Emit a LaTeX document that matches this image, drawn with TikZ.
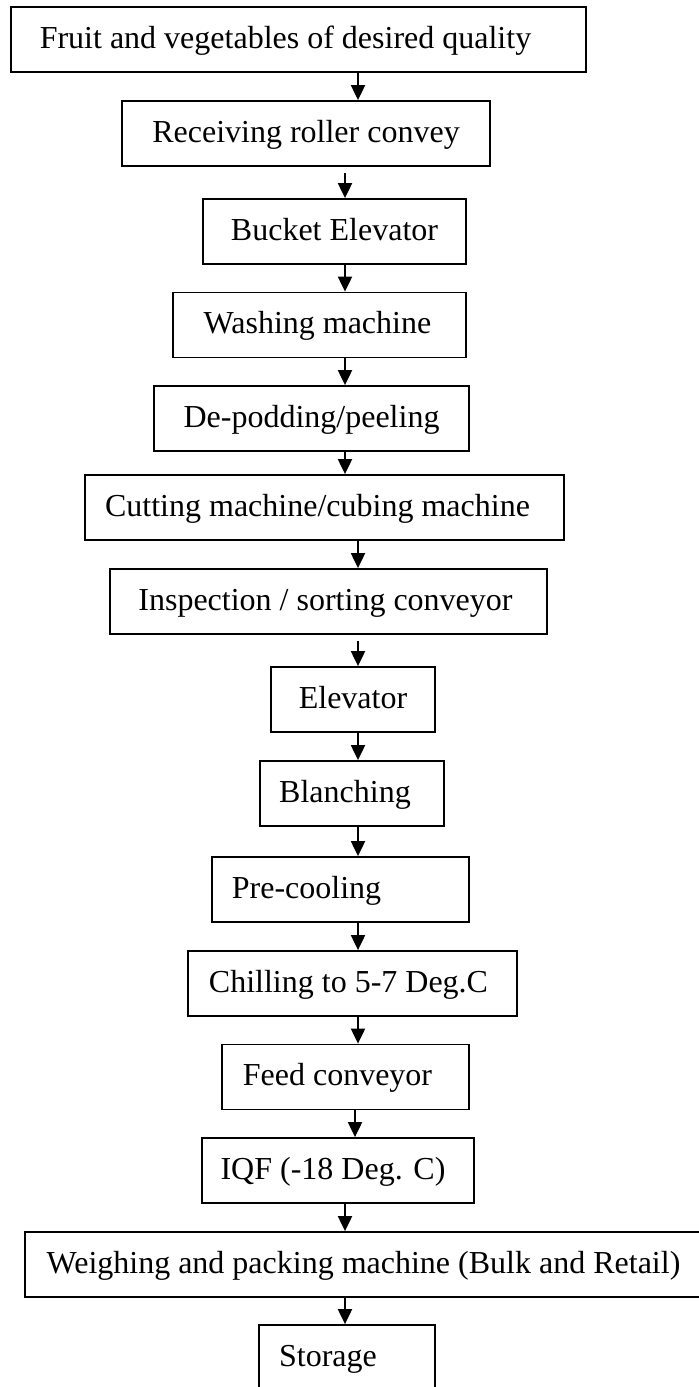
\documentclass[tikz,border=0pt]{standalone}
\usepackage{fontspec}
\setmainfont{Liberation Serif}
\usetikzlibrary{arrows.meta}
\begin{document}
\begin{tikzpicture}[x=0.5pt,y=-0.5pt]
\tikzstyle{stage}=[rectangle,draw,line width=0.9pt,inner sep=0pt,minimum height=32.5pt,text height=11.5pt,text depth=3pt,font=\fontsize{16pt}{19pt}\selectfont]
\tikzset{
	flow/.style={line width=1pt,-{Triangle[length=7.5pt,width=7pt]}}
}
\useasboundingbox (0,0) rectangle (698,1387);
\coordinate (left line) at (345,0);
\coordinate (right line) at (358,0);
\coordinate (mid line) at (355,0);
\node[stage,minimum width=287.5pt] (fruit) at (298.5,39.5) {Fruit and vegetables of desired quality\hspace*{13pt}};
\node[stage,minimum width=184pt] (roller) at (306,133.5) {Receiving roller convey};
\node[stage,minimum width=131.5pt] (bucket) at (334.5,231.5) {Bucket Elevator};
\node[stage,minimum width=146.5pt] (washing) at (319.5,325) {Washing machine\hspace*{2pt}};
\node[stage,minimum width=157.5pt] (peeling) at (311.5,418.5) {De-podding/peeling};
\node[stage,minimum width=239.5pt] (cutting) at (324.5,507.5) {Cutting machine/cubing machine\hspace*{7pt}};
\node[stage,minimum width=218.5pt] (sorting) at (328.5,601.5) {Inspection / sorting conveyor\hspace*{3pt}};
\node[stage,minimum width=82pt] (elevator) at (353,699.5) {Elevator};
\node[stage,minimum width=92pt] (blanching) at (352,793.5) {Blanching\hspace*{7pt}};
\node[stage,minimum width=128.5pt] (precool) at (340.5,889.5) {Pre-cooling\hspace*{34pt}};
\node[stage,minimum width=164.5pt] (chilling) at (352.5,983.5) {Chilling to 5-7 Deg.C\hspace*{4pt}};
\node[stage,minimum width=123.5pt] (feed) at (345.5,1077) {Feed conveyor\hspace*{8pt}};
\node[stage,minimum width=136pt] (iqf) at (338,1170.5) {IQF (-18 Deg. C)\hspace*{5pt}};
\node[stage,minimum width=338.5pt] (packing) at (363.5,1264.5) {Weighing and packing machine (Bulk and Retail)};
\node[stage,minimum width=88pt] (storage) at (347,1357.5) {Storage\hspace*{19pt}};
\draw[flow] (fruit.south -| right line) -- (roller.north -| right line);
\draw[flow,shorten <=3pt] (roller.south -| left line) -- (bucket.north -| left line);
\draw[flow] (bucket.south -| left line) -- (washing.north -| left line);
\draw[flow] (washing.south -| left line) -- (peeling.north -| left line);
\draw[flow] (peeling.south -| left line) -- (cutting.north -| left line);
\draw[flow] (cutting.south -| right line) -- (sorting.north -| right line);
\draw[flow,shorten <=3pt] (sorting.south -| right line) -- (elevator.north -| right line);
\draw[flow] (elevator.south -| right line) -- (blanching.north -| right line);
\draw[flow] (blanching.south -| right line) -- (precool.north -| right line);
\draw[flow] (precool.south -| right line) -- (chilling.north -| right line);
\draw[flow] (chilling.south -| right line) -- (feed.north -| right line);
\draw[flow] (feed.south -| mid line) -- (iqf.north -| mid line);
\draw[flow] (iqf.south -| left line) -- (packing.north -| left line);
\draw[flow] (packing.south -| left line) -- (storage.north -| left line);
\end{tikzpicture}
\end{document}
